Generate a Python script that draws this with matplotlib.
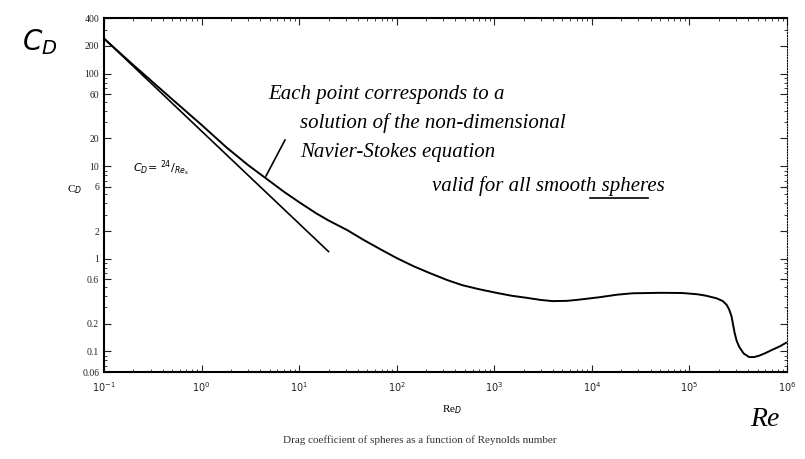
import numpy as np
import matplotlib
matplotlib.use("Agg")
import matplotlib.pyplot as plt
from matplotlib.ticker import FixedLocator, FixedFormatter, LogLocator, NullFormatter

# ---- data ----
re_curve = [0.1, 0.2, 0.5, 1.0, 1.8, 3.0, 4.5, 7.0, 10, 15, 20, 31, 45, 70, 100,
            150, 220, 330, 470, 700, 1050, 1500, 2140, 3000, 3940, 5500, 6930,
            11900, 18000, 26000, 50000, 84300, 120000, 148600, 190000, 220000,
            240000, 255000, 270000, 280000, 290000, 305000, 324000, 360000,
            409000, 460000, 518000, 600000, 703000, 850000, 977000]
cd_curve = [240, 124, 53, 28, 16, 10.3, 7.5, 5.3, 4.1, 3.1, 2.6, 2.05, 1.62, 1.25, 1.02,
            0.83, 0.70, 0.59, 0.52, 0.47, 0.43, 0.40, 0.38, 0.36, 0.350, 0.352, 0.36,
            0.385, 0.41, 0.425, 0.43, 0.428, 0.415, 0.40, 0.375, 0.35,
            0.32, 0.285, 0.24, 0.195, 0.16, 0.13, 0.112, 0.095,
            0.087, 0.087, 0.090, 0.096, 0.104, 0.114, 0.124]

re_stokes = [0.1, 20]
cd_stokes = [24 / r for r in re_stokes]

x_ticks = [1e-1, 1e0, 1e1, 1e2, 1e3, 1e4, 1e5, 1e6]
x_labels = [r"$10^{-1}$", r"$10^{0}$", r"$10^{1}$", r"$10^{2}$", r"$10^{3}$",
            r"$10^{4}$", r"$10^{5}$", r"$10^{6}$"]
y_ticks = [400, 200, 100, 60, 20, 10, 6, 2, 1, 0.6, 0.2, 0.1, 0.06]
y_labels = ["400", "200", "100", "60", "20", "10", "6", "2", "1", "0.6", "0.2", "0.1", "0.06"]

fig = plt.figure(figsize=(8.05, 4.59), dpi=100)
ax = fig.add_axes([104 / 805, 1 - 372 / 459, (787 - 104) / 805, (372 - 18) / 459])

ax.plot(re_curve, cd_curve, color="black", lw=1.4)
ax.plot(re_stokes, cd_stokes, color="black", lw=1.2)

ax.set_xscale("log")
ax.set_yscale("log")
ax.set_xlim(1e-1, 1e6)
ax.set_ylim(0.06, 400)

ax.xaxis.set_major_locator(FixedLocator(x_ticks))
ax.xaxis.set_major_formatter(FixedFormatter(x_labels))
ax.xaxis.set_minor_locator(LogLocator(base=10, subs=np.arange(2, 10)))
ax.xaxis.set_minor_formatter(NullFormatter())
ax.yaxis.set_major_locator(FixedLocator(y_ticks))
ax.yaxis.set_major_formatter(FixedFormatter(y_labels))
ax.yaxis.set_minor_locator(LogLocator(base=10, subs=np.arange(2, 10)))
ax.yaxis.set_minor_formatter(NullFormatter())

ax.tick_params(which="both", direction="in", top=True, right=True, colors="#222222",
               labelsize=7)
ax.tick_params(axis="x", which="major", pad=6)
ax.tick_params(which="major", length=5)
ax.tick_params(which="minor", length=2.5)
for lab in ax.get_yticklabels():
    lab.set_family("Liberation Serif")
for s in ["left", "bottom", "top"]:
    ax.spines[s].set_linewidth(1.5)
ax.spines["right"].set_linewidth(0.8)
ax.spines["right"].set_linestyle((0, (1, 1.5)))

# axis labels
fig.text(75 / 805, 1 - 190 / 459, r"C$_D$", fontsize=8, ha="center", va="center",
         family="Liberation Serif")
fig.text(452 / 805, 1 - 410 / 459, r"Re$_D$", fontsize=8, ha="center", va="center",
         family="Liberation Serif")
fig.text(420 / 805, 1 - 440 / 459,
         "Drag coefficient of spheres as a function of Reynolds number",
         fontsize=8, ha="center", va="center", family="Liberation Serif", color="#333333")

# Stokes label
fig.text(133 / 805, 1 - 168 / 459, r"$C_D$= $^{24}/_{Re_s}$", fontsize=8,
         ha="left", va="center")

# handwritten-style annotations
hw = dict(fontsize=15, style="italic", family="Liberation Serif", color="black")
fig.text(268 / 805, 1 - 95 / 459, "Each point corresponds to a", ha="left", va="center", **hw)
fig.text(300 / 805, 1 - 123 / 459, "solution of the non-dimensional", ha="left", va="center", **hw)
fig.text(300 / 805, 1 - 153 / 459, "Navier-Stokes equation", ha="left", va="center", **hw)
fig.text(432 / 805, 1 - 186 / 459, "valid for all smooth spheres", ha="left", va="center", **hw)
fig.add_artist(plt.Line2D([590 / 805, 648 / 805], [1 - 198 / 459, 1 - 198 / 459],
                          color="black", lw=1.2))
fig.add_artist(plt.Line2D([285 / 805, 266 / 805], [1 - 140 / 459, 1 - 176 / 459],
                          color="black", lw=1.2))
fig.text(40 / 805, 1 - 42 / 459, r"$C_D$", fontsize=20, ha="center", va="center",
         style="italic", family="Liberation Serif")
fig.text(765 / 805, 1 - 420 / 459, "Re", fontsize=20, ha="center", va="center",
         style="italic", family="Liberation Serif")

fig.savefig("out.png", dpi=100)
